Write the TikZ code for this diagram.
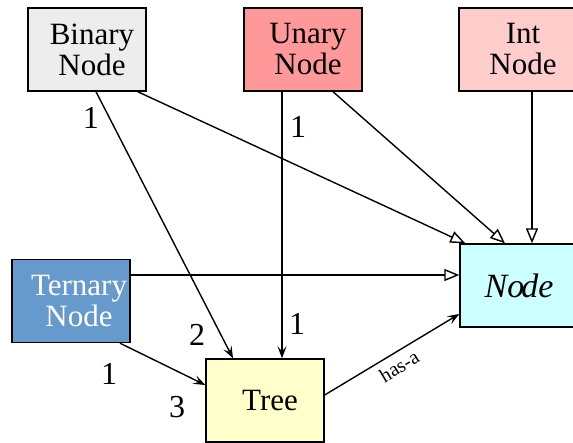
\documentclass[tikz,border=0pt]{standalone}
\usepackage{fontspec}
\setmainfont{Liberation Serif}
\usetikzlibrary{arrows.meta}

\begin{document}
\begin{tikzpicture}
  [x=0.5pt, y=-0.5pt, line width=0.7pt,
   box/.style={draw, rectangle, minimum width=59pt, minimum height=41.5pt,
               inner sep=0pt, align=center, font=\fontsize{15.5}{15.5}\selectfont},
   mult/.style={inner sep=0pt, font=\fontsize{16}{16}\selectfont},
   isa/.style={-{Triangle[open, length=7.5pt, width=6pt]}},
   hasa/.style={-{Stealth[length=6pt, width=4.5pt, inset=2.5pt]}}]
  \useasboundingbox (0,0) rectangle (573,443);
  % classes
  \node[box, fill=black!7] (binary) at (87,49.5) {\hspace*{5pt}Binary\\\hspace*{5pt}Node};
  \node[box, fill=red!40] (unary) at (303,49.5) {\hspace*{5pt}Unary\\\hspace*{5pt}Node};
  \node[box, fill=red!20] (int) at (518,49.5) {\hspace*{5pt}Int\\\hspace*{5pt}Node};
  \node[box, fill={rgb,255:red,102;green,153;blue,204}, text=white]
     (ternary) at (71,301) {\hspace*{8pt}Ternary\\\hspace*{8pt}Node};
  \node[box, fill={rgb,255:red,204;green,255;blue,255}, font=\fontsize{17}{17}\selectfont\itshape]
     (absnode) at (519,285.5) {No\kern-1.5pt de};
  \node[box, fill={rgb,255:red,255;green,255;blue,204}] (tree) at (265,400.5) {\hspace*{5pt}Tree};
  % inheritance
  \draw[isa] ([xshift=-4.5pt]binary.south east) -- ([xshift=3pt]absnode.north west);
  \draw[isa] ([xshift=15pt]unary.south) -- ([xshift=-7pt]absnode.north);
  \draw[isa] ([xshift=7pt]int.south) -- ([xshift=6.5pt]absnode.north);
  \draw[isa] ([yshift=13pt]ternary.east) -- ([yshift=5.25pt]absnode.west);
  % associations
  \draw[hasa] ([xshift=4.5pt]binary.south) -- ([xshift=-16pt]tree.north);
  \draw[hasa] ([xshift=-10.5pt]unary.south) -- ([xshift=8.5pt]tree.north);
  \draw[hasa] ([xshift=24.5pt]ternary.south) -- ([yshift=7.75pt]tree.west);
  \draw[hasa] ([yshift=2.75pt]tree.east) -- ([yshift=-14.25pt]absnode.west)
     node[midway, sloped, below=2pt, inner sep=1pt, font=\fontsize{10}{10}\selectfont]
     (haslbl) {has-a};
  % multiplicities
  \node[mult] (binmult) at (91,118) {1};
  \node[mult] (unmult) at (298,127) {1};
  \node[mult] (terMult) at (109,374) {1};
  \node[mult] (treeb) at (197,335) {2};
  \node[mult] (treeu) at (297,324) {1};
  \node[mult] (treet) at (177,407) {3};
\end{tikzpicture}
\end{document}
